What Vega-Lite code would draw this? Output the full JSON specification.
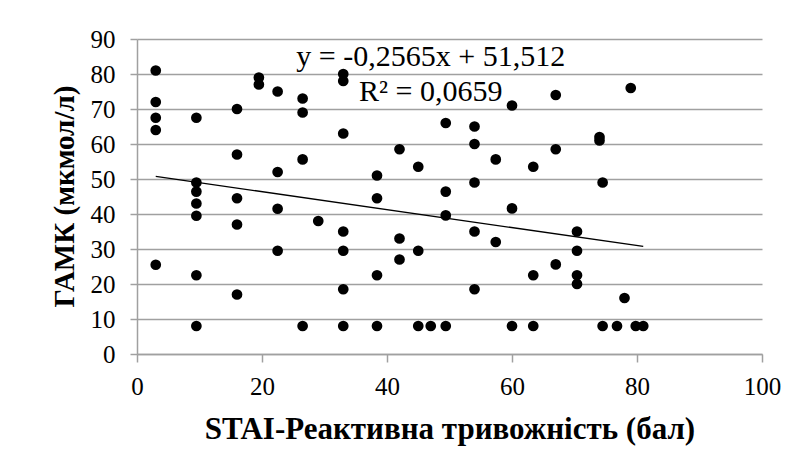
{
  "$schema": "https://vega.github.io/schema/vega-lite/v6.json",
  "width": 625,
  "height": 315,
  "autosize": "none",
  "padding": {"left": 137, "top": 39, "right": 36, "bottom": 120},
  "background": "white",
  "config": {
    "view": {"stroke": null},
    "font": "Liberation Serif",
    "axis": {
      "labelFont": "Liberation Serif",
      "labelFontSize": 25,
      "labelColor": "#000000",
      "labelOverlap": false,
      "labelFlush": false,
      "titleFont": "Liberation Serif",
      "titleFontWeight": "bold",
      "titleColor": "#000000",
      "domainColor": "#a0a0a0",
      "domainWidth": 1.5,
      "tickColor": "#a0a0a0",
      "tickWidth": 1.5,
      "grid": true,
      "gridColor": "#a0a0a0",
      "gridWidth": 1.5,
      "gridOpacity": 1
    },
    "axisX": {
      "grid": false,
      "tickSize": 8,
      "labelBaseline": "alphabetic",
      "labelPadding": 32,
      "titleFontSize": 31,
      "titleBaseline": "alphabetic",
      "titleY": 84
    },
    "axisY": {
      "tickSize": 7,
      "labelPadding": 15,
      "labelBaseline": "middle",
      "titleFontSize": 29,
      "titleBaseline": "alphabetic",
      "titleAlign": "center",
      "titleX": -64,
      "titleY": 157
    }
  },
  "datasets": {
    "gridlines": [
      {"gaba": 10}, {"gaba": 20}, {"gaba": 30}, {"gaba": 40}, {"gaba": 50},
      {"gaba": 60}, {"gaba": 70}, {"gaba": 80}, {"gaba": 90}
    ],
    "points": [
      {"stai": 3, "gaba": 81}, {"stai": 3, "gaba": 72}, {"stai": 3, "gaba": 67.5}, {"stai": 3, "gaba": 64}, {"stai": 3, "gaba": 25.5},
      {"stai": 9.5, "gaba": 67.5}, {"stai": 9.5, "gaba": 49}, {"stai": 9.5, "gaba": 46.4}, {"stai": 9.5, "gaba": 43}, {"stai": 9.5, "gaba": 39.5}, {"stai": 9.5, "gaba": 22.5}, {"stai": 9.5, "gaba": 8},
      {"stai": 16, "gaba": 70}, {"stai": 16, "gaba": 57}, {"stai": 16, "gaba": 44.5}, {"stai": 16, "gaba": 37}, {"stai": 16, "gaba": 17},
      {"stai": 19.5, "gaba": 79}, {"stai": 19.5, "gaba": 77},
      {"stai": 22.5, "gaba": 75}, {"stai": 22.5, "gaba": 52}, {"stai": 22.5, "gaba": 41.5}, {"stai": 22.5, "gaba": 29.5},
      {"stai": 26.5, "gaba": 73}, {"stai": 26.5, "gaba": 69}, {"stai": 26.5, "gaba": 55.6}, {"stai": 26.5, "gaba": 8},
      {"stai": 29, "gaba": 38},
      {"stai": 33, "gaba": 80}, {"stai": 33, "gaba": 78}, {"stai": 33, "gaba": 63}, {"stai": 33, "gaba": 35}, {"stai": 33, "gaba": 29.5}, {"stai": 33, "gaba": 18.5}, {"stai": 33, "gaba": 8},
      {"stai": 38.4, "gaba": 51}, {"stai": 38.4, "gaba": 44.5}, {"stai": 38.4, "gaba": 22.5}, {"stai": 38.4, "gaba": 8},
      {"stai": 42, "gaba": 58.5}, {"stai": 42, "gaba": 33}, {"stai": 42, "gaba": 27},
      {"stai": 45, "gaba": 53.5}, {"stai": 45, "gaba": 29.5}, {"stai": 45, "gaba": 8},
      {"stai": 47, "gaba": 8},
      {"stai": 49.4, "gaba": 66}, {"stai": 49.4, "gaba": 46.4}, {"stai": 49.4, "gaba": 39.6}, {"stai": 49.4, "gaba": 8},
      {"stai": 54, "gaba": 65}, {"stai": 54, "gaba": 60}, {"stai": 54, "gaba": 49}, {"stai": 54, "gaba": 35}, {"stai": 54, "gaba": 18.5},
      {"stai": 57.4, "gaba": 55.6}, {"stai": 57.4, "gaba": 32},
      {"stai": 60, "gaba": 71}, {"stai": 60, "gaba": 41.6}, {"stai": 60, "gaba": 8},
      {"stai": 63.4, "gaba": 53.5}, {"stai": 63.4, "gaba": 22.5}, {"stai": 63.4, "gaba": 8},
      {"stai": 67, "gaba": 74}, {"stai": 67, "gaba": 58.5}, {"stai": 67, "gaba": 25.6},
      {"stai": 70.4, "gaba": 35}, {"stai": 70.4, "gaba": 29.5}, {"stai": 70.4, "gaba": 22.5}, {"stai": 70.4, "gaba": 20},
      {"stai": 74, "gaba": 62}, {"stai": 74, "gaba": 61}, {"stai": 74.5, "gaba": 49}, {"stai": 74.5, "gaba": 8},
      {"stai": 76.8, "gaba": 8}, {"stai": 78, "gaba": 16}, {"stai": 79, "gaba": 76}, {"stai": 79.8, "gaba": 8}, {"stai": 81, "gaba": 8}
    ],
    "trend": [
      {"stai": 3, "gaba": 50.7425},
      {"stai": 81, "gaba": 30.7355}
    ],
    "labels": [
      {"stai": 47, "gaba": 85, "text": "y = -0,2565x + 51,512"},
      {"stai": 47, "gaba": 75, "text": "R² = 0,0659"}
    ]
  },
  "encoding": {
    "x": {
      "field": "stai", "type": "quantitative",
      "scale": {"domain": [0, 100], "nice": false, "zero": true},
      "axis": {
        "title": "STAI-Реактивна тривожність (бал)",
        "values": [0, 20, 40, 60, 80, 100]
      }
    },
    "y": {
      "field": "gaba", "type": "quantitative",
      "scale": {"domain": [0, 90], "nice": false},
      "axis": {
        "title": "ГАМК (мкмол/л)",
        "values": [0, 10, 20, 30, 40, 50, 60, 70, 80, 90]
      }
    }
  },
  "layer": [
    {
      "data": {"name": "gridlines"},
      "mark": {"type": "rule", "color": "#a0a0a0", "strokeWidth": 1.5, "opacity": 1},
      "encoding": {
        "x": {"datum": 0, "type": "quantitative"},
        "x2": {"datum": 100},
        "y": {"field": "gaba", "type": "quantitative"}
      }
    },
    {
      "data": {"name": "points"},
      "mark": {"type": "point", "shape": "circle", "filled": true, "color": "black", "opacity": 1, "size": 115}
    },
    {
      "data": {"name": "trend"},
      "mark": {"type": "line", "color": "black", "strokeWidth": 1.3}
    },
    {
      "data": {"name": "labels"},
      "mark": {"type": "text", "font": "Liberation Serif", "fontSize": 30, "color": "black", "align": "center", "baseline": "middle"},
      "encoding": {
        "text": {"field": "text"}
      }
    }
  ]
}
